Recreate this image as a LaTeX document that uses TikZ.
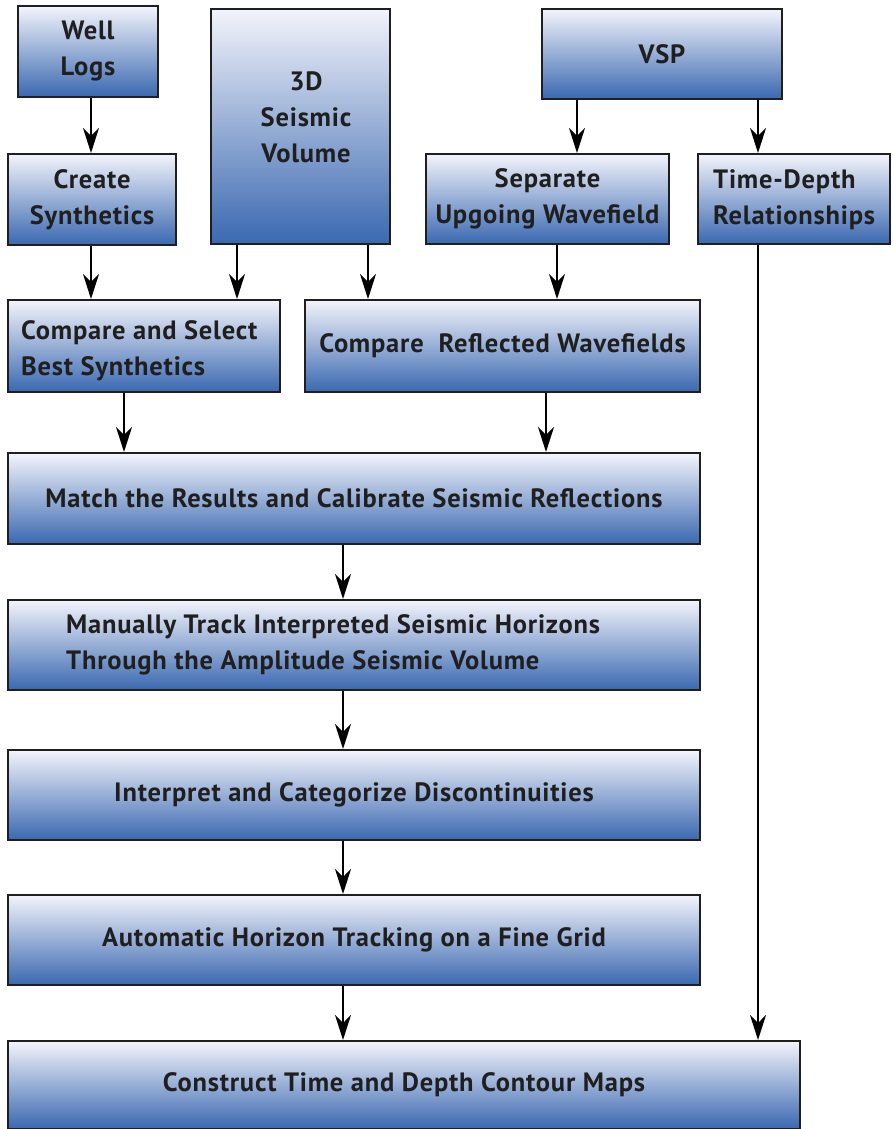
\documentclass[tikz,border=0pt]{standalone}
\usepackage{fontspec}
\setmainfont{PT Sans}[LetterSpace=3]
\usetikzlibrary{arrows.meta}
\definecolor{topc}{RGB}{243,244,251}
\definecolor{botc}{RGB}{58,104,176}
\begin{document}
\begin{tikzpicture}[x=1pt,y=-1pt,
 box/.style={draw=black!88, line width=2pt, top color=topc, bottom color=botc, inner sep=0pt, align=center, font=\bfseries\fontsize{26.5}{36}\selectfont, text=black!88},
 txt/.style={font=\bfseries\fontsize{26.5}{36}\selectfont, inner sep=0pt, text=black!88},
 arr/.style={line width=2pt, -{Stealth[length=25pt,width=16pt,inset=8pt]}}]
\useasboundingbox (0,0) rectangle (892,1129);
% boxes
\node[box, minimum width=140pt, minimum height=91pt] (wl) at (88,51.5) {Well\\Logs};
\node[box, minimum width=168pt, minimum height=91pt] (cs) at (92,199.5) {Create\\Synthetics};
\node[box, minimum width=179pt, minimum height=235pt] (seis) at (300.5,126.5) {};
\node[txt, align=center] (seist) at (306,117) {3D\\Seismic\\Volume};
\node[box, minimum width=240pt, minimum height=90pt] (vsp) at (662,54) {VSP};
\node[box, minimum width=243pt, minimum height=90pt] (sep) at (547.5,199) {Separate\\Upgoing Wavefield};
\node[box, minimum width=192pt, minimum height=90pt] (td) at (794,199) {};
\node[txt, align=left, anchor=west] (tdt) at (713,200) {Time-Depth\\Relationships};
\node[box, minimum width=272pt, minimum height=92pt] (csel) at (144,346) {};
\node[txt, align=left, anchor=west] (cselt) at (21,351) {Compare and Select\\Best Synthetics};
\node[box, minimum width=395pt, minimum height=92pt] (crw) at (502.5,346) {Compare\ \ Reflected Wavefields};
\node[box, minimum width=692pt, minimum height=91pt] (match) at (354,498.5) {Match the Results and Calibrate Seismic Reflections};
\node[box, minimum width=692pt, minimum height=90pt] (man) at (354,645) {};
\node[txt, align=left, anchor=west] (mant) at (66,645) {Manually Track Interpreted Seismic Horizons\\Through the Amplitude Seismic Volume};
\node[box, minimum width=692pt, minimum height=90pt] (interp) at (354,795) {Interpret and Categorize Discontinuities};
\node[box, minimum width=692pt, minimum height=90pt] (auto) at (354,940) {Automatic Horizon Tracking on a Fine Grid};
\node[box, minimum width=792pt, minimum height=88pt] (con) at (404,1085) {Construct Time and Depth Contour Maps};
% arrows
\draw[arr] (wl.south -| 91,0) -- (cs.north -| 91,0);
\draw[arr] (cs.south -| 91,0) -- (csel.north -| 91,0);
\draw[arr] (seis.south -| 237,0) -- (csel.north -| 237,0);
\draw[arr] (seis.south -| 368,0) -- (crw.north -| 368,0);
\draw[arr] (sep.south -| 557,0) -- (crw.north -| 557,0);
\draw[arr] (vsp.south -| 577,0) -- (sep.north -| 577,0);
\draw[arr] (vsp.south -| 758,0) -- (td.north -| 758,0);
\draw[arr] (td.south -| 758,0) -- (con.north -| 758,0);
\draw[arr] (csel.south -| 124,0) -- (match.north -| 124,0);
\draw[arr] (crw.south -| 546,0) -- (match.north -| 546,0);
\draw[arr] (match.south -| 343,0) -- (man.north -| 343,0);
\draw[arr] (man.south -| 343,0) -- (interp.north -| 343,0);
\draw[arr] (interp.south -| 343,0) -- (auto.north -| 343,0);
\draw[arr] (auto.south -| 343,0) -- (con.north -| 343,0);
\end{tikzpicture}
\end{document}
